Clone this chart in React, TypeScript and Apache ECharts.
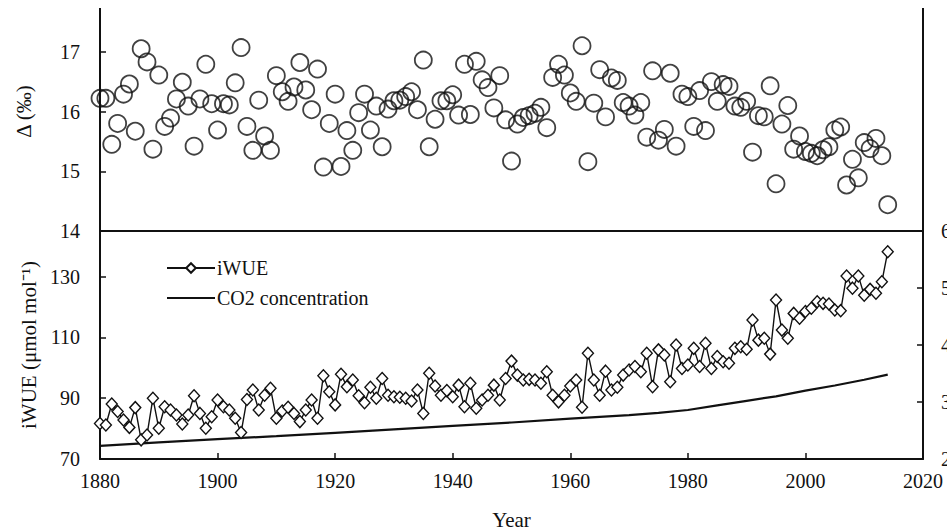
import React, { useEffect, useRef } from 'react';
import * as echarts from 'echarts';

const firstYear = 1880;
const years: number[] = Array.from({ length: 135 }, (_, i) => firstYear + i);

const delta: number[] = [
  16.22, 16.22, 15.45, 15.8, 16.29, 16.46, 15.67, 17.05, 16.83, 15.37,
  16.61, 15.75, 15.89, 16.21, 16.49, 16.09, 15.42, 16.21, 16.79, 16.13,
  15.69, 16.13, 16.11, 16.48, 17.07, 15.75, 15.35, 16.19, 15.59, 15.35,
  16.6, 16.33, 16.17, 16.41, 16.82, 16.36, 16.03, 16.71, 15.07, 15.8,
  16.29, 15.08, 15.68, 15.35, 15.98, 16.29, 15.69, 16.09, 15.41, 16.04,
  16.18, 16.19, 16.25, 16.33, 16.03, 16.86, 15.41, 15.87, 16.18, 16.18,
  16.28, 15.94, 16.79, 15.95, 16.84, 16.53, 16.4, 16.06, 16.6, 15.86,
  15.17, 15.79, 15.9, 15.93, 15.97, 16.07, 15.73, 16.57, 16.79, 16.61,
  16.31, 16.17, 17.1, 15.16, 16.14, 16.7, 15.91, 16.56, 16.52, 16.15,
  16.09, 15.94, 16.15, 15.57, 16.68, 15.52, 15.7, 16.64, 15.42, 16.29,
  16.25, 15.75, 16.35, 15.68, 16.5, 16.17, 16.45, 16.42, 16.09, 16.07,
  16.17, 15.32, 15.93, 15.91, 16.43, 14.79, 15.79, 16.1, 15.37, 15.59,
  15.33, 15.3, 15.26, 15.36, 15.41, 15.69, 15.74, 14.77, 15.2, 14.89,
  15.48, 15.38, 15.55, 15.26, 14.44,
];

const iwue: number[] = [
  81.7, 81.2, 88.1, 85.6, 82.8, 80.4, 86.9, 76.3, 77.9, 90.0,
  80.1, 87.2, 86.1, 84.5, 81.5, 84.5, 90.8, 85.0, 80.1, 83.9,
  89.4, 87.2, 86.1, 83.4, 78.7, 89.6, 92.7, 86.1, 91.0, 93.3,
  83.4, 85.8, 87.0, 85.0, 82.3, 86.1, 89.4, 83.4, 97.4, 92.1,
  87.8, 97.9, 93.8, 96.0, 90.8, 88.5, 93.6, 90.0, 96.5, 91.0,
  90.5, 90.3, 90.0, 89.1, 92.7, 85.0, 98.2, 94.0, 91.0, 92.5,
  90.5, 94.3, 87.2, 94.9, 86.7, 89.4, 91.0, 94.3, 89.4, 96.5,
  102.2, 97.6, 96.0, 96.2, 96.0, 94.9, 98.7, 91.0, 88.8, 91.0,
  94.0, 96.0, 87.0, 104.8, 96.0, 91.0, 98.9, 92.7, 93.6, 97.6,
  99.3, 100.4, 98.7, 104.8, 93.8, 105.9, 104.2, 95.4, 107.5, 99.8,
  100.9, 106.4, 100.4, 108.1, 99.8, 103.7, 102.0, 101.5, 106.4, 106.9,
  106.1, 115.7, 109.1, 109.7, 104.5, 122.3, 112.4, 109.7, 117.9, 116.3,
  118.5, 119.6, 121.7, 121.2, 121.0, 119.0, 118.8, 130.2, 126.2, 130.2,
  123.9, 125.8, 124.5, 128.3, 138.2,
];

const co2Years: number[] = [1880, 1890, 1900, 1910, 1920, 1930, 1940, 1950, 1960, 1970, 1975, 1980, 1985, 1990, 1995, 2000, 2005, 2010, 2014];
const co2Values: number[] = [223, 229, 235, 240, 246, 252, 258, 264, 271, 277, 281, 286, 294, 302, 310, 320, 329, 339, 348];

const seriesNames = ['iWUE', 'CO2 concentration'];

export default function App() {
  const ref = useRef<HTMLDivElement>(null);
  useEffect(() => {
    if (!ref.current) return;
    document.documentElement.style.overflow = 'hidden';
    document.body.style.overflow = 'hidden';
    const chart = echarts.init(ref.current, null, { renderer: 'svg' });
    const font = 'Liberation Serif';
    const ink = '#111';
    const plain = (v: number) => String(v);
    const axisLine = { show: true, onZero: false, lineStyle: { color: ink, width: 2 } };
    const tick = { show: true, inside: true, length: 6, lineStyle: { color: ink, width: 1.5 } };
    const label = { color: ink, fontFamily: font, fontSize: 20 };
    chart.setOption({
      animation: false,
      backgroundColor: '#fff',
      textStyle: { fontFamily: font, color: ink },
      grid: [
        { left: 100, right: 24, top: -8, height: 239, outerBoundsMode: 'none', containLabel: false },
        { left: 100, right: 24, top: 231, height: 228, outerBoundsMode: 'none', containLabel: false },
      ],
      legend: {
        left: 161,
        top: 253,
        orient: 'vertical',
        itemWidth: 48,
        itemHeight: 12,
        itemGap: 10,
        data: [
          { name: seriesNames[0] },
          { name: seriesNames[1], icon: 'path://M0,0h48v2.2h-48z' },
        ],
        textStyle: { ...label, fontSize: 20, padding: [0, 0, 0, -3] },
      },
      xAxis: [
        {
          gridIndex: 0, type: 'value', min: 1880, max: 2020, interval: 20,
          axisLine, axisTick: { show: false }, axisLabel: { show: false }, splitLine: { show: false },
        },
        {
          gridIndex: 1, type: 'value', min: 1880, max: 2020, interval: 20,
          name: 'Year', nameLocation: 'middle', nameGap: 50,
          nameTextStyle: { ...label, fontSize: 21 },
          axisLine, axisTick: tick, axisLabel: { ...label, margin: 12, formatter: plain }, splitLine: { show: false },
        },
      ],
      yAxis: [
        {
          gridIndex: 0, type: 'value', min: 14, max: 18, interval: 1,
          name: 'Δ (‰)', nameLocation: 'middle', nameGap: 66,
          nameTextStyle: { ...label, fontSize: 21 },
          axisLine, axisTick: tick, axisLabel: { ...label, margin: 20, formatter: plain }, splitLine: { show: false },
        },
        {
          gridIndex: 0, type: 'value', position: 'right', min: 14, max: 18, interval: 1,
          axisLine, axisTick: { show: false }, axisLabel: { show: false }, splitLine: { show: false },
        },
        {
          gridIndex: 1, type: 'value', min: 70, max: 145, interval: 20,
          name: 'iWUE (μmol mol⁻¹)', nameLocation: 'middle', nameGap: 58,
          nameTextStyle: { ...label, fontSize: 21 },
          axisLine, axisTick: tick, axisLabel: { ...label, margin: 20, showMaxLabel: false, formatter: plain }, splitLine: { show: false },
        },
        {
          gridIndex: 1, type: 'value', position: 'right', min: 200, max: 600, interval: 100,
          axisLine, axisTick: tick, axisLabel: { ...label, margin: 18, formatter: plain }, splitLine: { show: false },
        },
      ],
      graphic: [
        { type: 'rect', shape: { x: 90, y: 0, width: 845, height: 8 }, style: { fill: '#fff' }, z: 100 },
      ],
      series: [
        {
          name: 'Δ',
          type: 'scatter',
          xAxisIndex: 0,
          yAxisIndex: 0,
          symbol: 'circle',
          symbolSize: 17,
          itemStyle: { color: 'rgba(0,0,0,0)', borderColor: ink, borderWidth: 1.8 },
          data: years.map((y, i) => [y, delta[i]]),
        },
        {
          name: seriesNames[0],
          type: 'line',
          xAxisIndex: 1,
          yAxisIndex: 2,
          symbol: 'diamond',
          symbolSize: [11, 12],
          itemStyle: { color: '#fff', borderColor: ink, borderWidth: 1.4 },
          lineStyle: { color: ink, width: 1.4 },
          data: years.map((y, i) => [y, iwue[i]]),
        },
        {
          name: seriesNames[1],
          type: 'line',
          xAxisIndex: 1,
          yAxisIndex: 3,
          smooth: false,
          symbol: 'none',
          itemStyle: { color: ink },
          lineStyle: { color: ink, width: 2.2 },
          data: co2Years.map((y, i) => [y, co2Values[i]]),
        },
      ],
    });
    return () => chart.dispose();
  }, []);
  return <div ref={ref} style={{ position: 'absolute', left: 0, top: 0, width: 947, height: 532 }} />;
}
